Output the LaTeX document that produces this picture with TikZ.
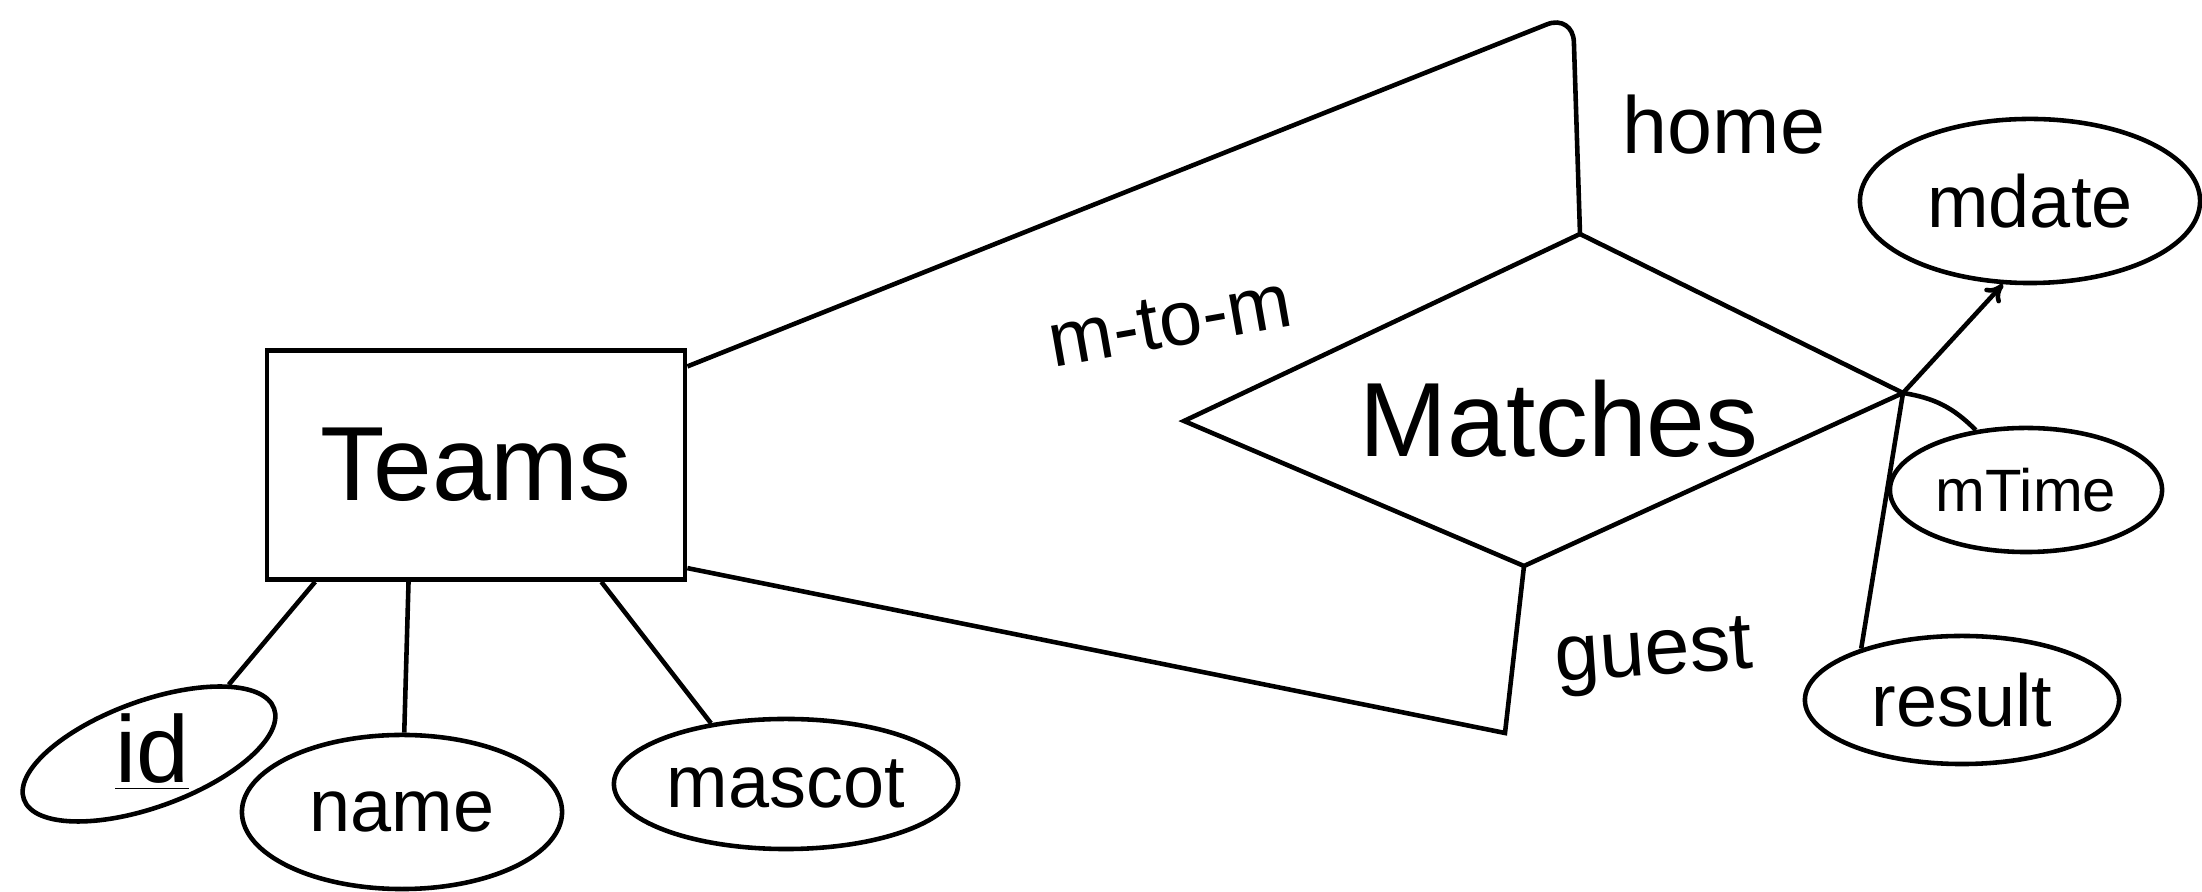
\documentclass[tikz,border=0pt]{standalone}
\usepackage{fontspec}
\setmainfont{Liberation Sans}
\usetikzlibrary{shapes.geometric,arrows.meta}

\tikzset{
  entity/.style={draw, line width=1.3pt, minimum width=4.18cm, minimum height=2.29cm, font=\fontsize{30}{34}\selectfont},
  attr/.style={draw, ellipse, line width=1.3pt, inner sep=0pt, font=\fontsize{21}{24}\selectfont},
  lbl/.style={font=\fontsize{23}{26}\selectfont},
}

\begin{document}
\begin{tikzpicture}[x=0.01cm, y=-0.01cm, line width=1.3pt]
    \useasboundingbox (0,0) rectangle (2202,892);

    %entity
    \node[entity] (teams) at (476,465) {Teams};

    %relationship (drawn by hand, so not a diamond node)
    \coordinate (mL) at (1184,421);
    \coordinate (mT) at (1580,234);
    \coordinate (mR) at (1903,393);
    \coordinate (mB) at (1524,566);
    \draw (mL) -- (mT) -- (mR) -- (mB) -- cycle;
    \node[font=\fontsize{30}{34}\selectfont] (matches) at (1559,419) {Matches};

    %attributes
    \node[attr, rotate=20, minimum width=2.66cm, minimum height=1.06cm] (id) at (149,754) {};
    \node[font=\fontsize{27}{30}\selectfont] (idtext) at (152,752) {\underline{id}};
    \node[attr, minimum width=3.2cm, minimum height=1.54cm] (name) at (402,812) {name};
    \node[attr, minimum width=3.44cm, minimum height=1.3cm] (mascot) at (786,784) {mascot};
    \node[attr, minimum width=3.4cm, minimum height=1.64cm] (mdate) at (2030,201) {mdate};
    \node[attr, minimum width=2.72cm, minimum height=1.24cm, font=\fontsize{17}{20}\selectfont] (mtime) at (2026,490) {mTime};
    \node[attr, minimum width=3.14cm, minimum height=1.28cm] (result) at (1962,700) {result};

    %teams -- attributes
    \draw (teams.216) -- (id.21);
    \draw (teams.240) -- (name);
    \draw (teams.317) -- (mascot.141);

    %teams -- matches
    \coordinate (homec) at (1573,14);
    \coordinate (guestc) at (1505,733);
    \draw[rounded corners=8] (teams.25) -- (homec) -- (mT);
    \draw (teams.-26) -- (guestc) -- (mB);

    %matches -- attributes
    \draw[-{To[length=5pt,width=6pt]}] (mR) -- (mdate.252);
    \draw (mR) to[bend left=18] (mtime.130);
    \draw (result.153) -- (mR);

    %labels
    \node[lbl] (home) at (1724,125) {home};
    \node[lbl, rotate=4] (guest) at (1654,657) {guest};
    \node[lbl, rotate=10, font=\fontsize{22}{25}\selectfont] (card) at (1170,322) {m-to-m};

\end{tikzpicture}
\end{document}
